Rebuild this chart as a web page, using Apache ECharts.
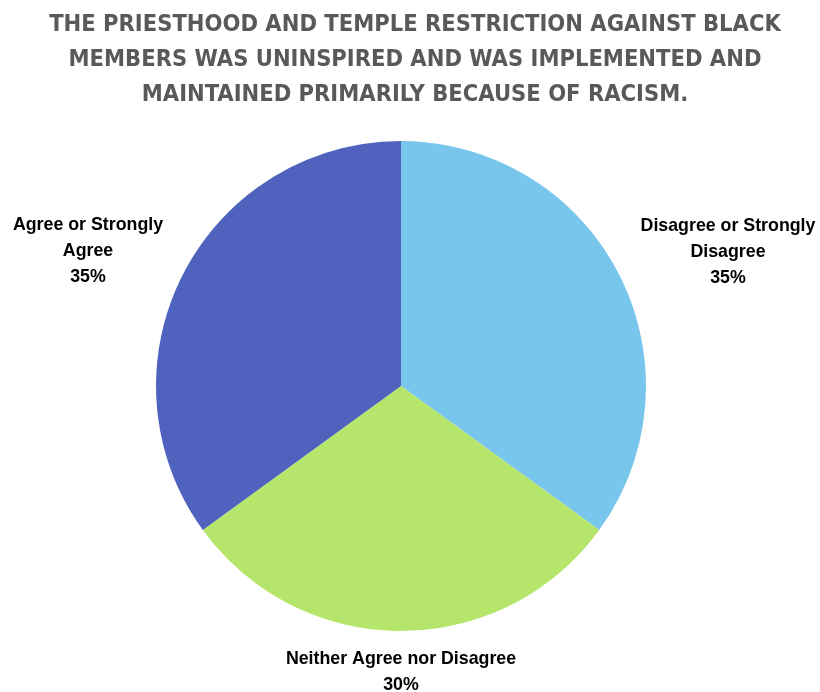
<!DOCTYPE html>
<html>
<head>
<meta charset="utf-8">
<script src="https://cdn.jsdelivr.net/npm/echarts@6/dist/echarts.min.js"></script>
<style>
  html, body { margin: 0; padding: 0; background: #ffffff; }
  #chart { width: 820px; height: 692px; }
</style>
</head>
<body>
<div id="chart"></div>
<script>
// Survey responses, clockwise from 12 o'clock
const categories = [
  'Disagree or Strongly\nDisagree',
  'Neither Agree nor Disagree',
  'Agree or Strongly\nAgree'
];
const shares = [35, 30, 35];
const colors = ['#78C6EC', '#B5E66B', '#4F63BE'];

const titleText =
  'THE PRIESTHOOD AND TEMPLE RESTRICTION AGAINST BLACK\n' +
  'MEMBERS WAS UNINSPIRED AND WAS IMPLEMENTED AND\n' +
  'MAINTAINED PRIMARILY BECAUSE OF RACISM.';

// Where each slice's label block is centred
const labelSpots = [[728, 252], [401, 672], [88, 251]];

const chart = echarts.init(document.getElementById('chart'));
chart.setOption({
  backgroundColor: '#ffffff',
  animation: false,
  title: {
    text: titleText,
    left: 410,
    top: 2,
    textAlign: 'center',
    textStyle: {
      fontFamily: '"DejaVu Sans Condensed", "Liberation Sans Narrow", sans-serif',
      fontWeight: 'bold',
      fontSize: 23.5,
      lineHeight: 35,
      color: '#595959'
    }
  },
  series: [{
    type: 'pie',
    center: [401, 386],
    radius: [0, 245],
    startAngle: 90,
    clockwise: true,
    avoidLabelOverlap: false,
    itemStyle: { borderColor: '#ffffff', borderWidth: 0 },
    label: {
      show: true,
      position: 'outside',
      formatter: '{b}\n{d}%',
      fontFamily: '"Liberation Sans", Arial, sans-serif',
      fontWeight: 'bold',
      fontSize: 17.8,
      lineHeight: 26,
      color: '#000000',
      align: 'center'
    },
    labelLine: { show: false },
    labelLayout: function (p) {
      const s = labelSpots[p.dataIndex];
      return { x: s[0], y: s[1], align: 'center', verticalAlign: 'middle' };
    },
    data: categories.map((name, i) => ({
      name: name,
      value: shares[i],
      itemStyle: { color: colors[i] }
    }))
  }]
});
</script>
</body>
</html>
